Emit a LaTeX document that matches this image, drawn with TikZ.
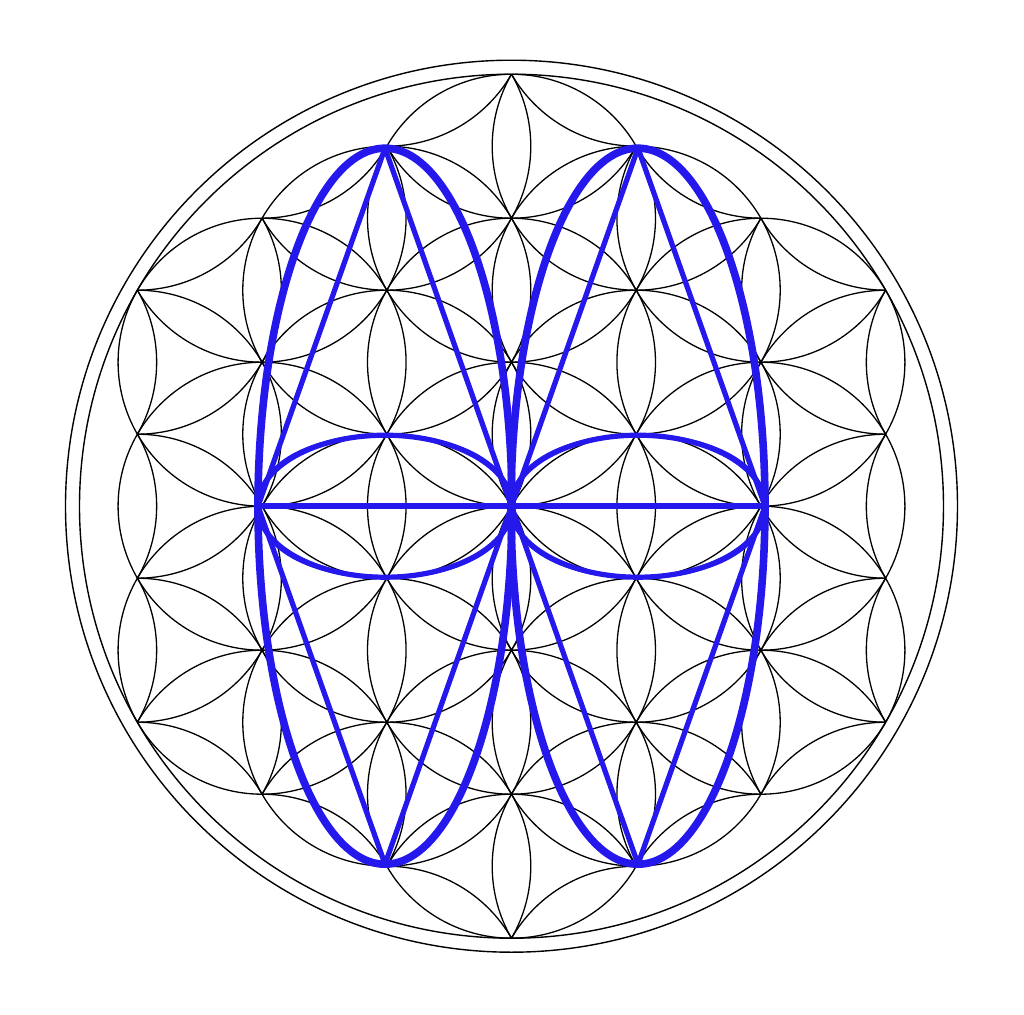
\documentclass[tikz,border=0pt]{standalone}
\definecolor{fblue}{RGB}{36,24,236}
\tikzset{
  flower/.style={draw=black, line width=0.65pt},
  ring/.style={draw=black, line width=0.7pt},
  bigoval/.style={draw=fblue, line width=3.8pt},
  rhomb/.style={draw=fblue, line width=2.6pt, line join=round},
  axisline/.style={draw=fblue, line width=3.2pt},
  smalloval/.style={draw=fblue, line width=2.6pt},
  thincurve/.style={draw=fblue, line width=1.5pt},
}
\newcommand\flowerpetal[3]{%
  \pgfmathsetmacro\fpx{(#1)*124.7077}%
  \pgfmathsetmacro\fpy{(#1)*72+(#2)*144}%
  \draw[flower] (\fpx,\fpy) arc[start angle=#3+240, end angle=#3+300, radius=144]
    (\fpx,\fpy) arc[start angle=#3+120, end angle=#3+60, radius=144];}
\begin{document}
\begin{tikzpicture}[x=0.5pt,y=0.5pt]
\fill[white] (-511.5,-507.8) rectangle (512.5,506.2);
\useasboundingbox (-511.5,-507.8) rectangle (512.5,506.2);
\coordinate (O) at (0,0);
% flower of life petals
\foreach \i in {-3,...,3}{
  \foreach \j in {-3,...,3}{
    \pgfmathtruncatemacro\hexd{(abs(\i)+abs(\j)+abs((\i)+(\j)))/2}
    \ifnum\hexd<4
      \pgfmathtruncatemacro\hexa{(abs((\i)+1)+abs(\j)+abs((\i)+(\j)+1))/2}
      \ifnum\hexa<4 \flowerpetal{\i}{\j}{30}\fi
      \pgfmathtruncatemacro\hexb{(abs(\i)+abs((\j)+1)+abs((\i)+(\j)+1))/2}
      \ifnum\hexb<4 \flowerpetal{\i}{\j}{90}\fi
      \pgfmathtruncatemacro\hexc{(abs((\i)-1)+abs((\j)+1)+abs((\i)+(\j)))/2}
      \ifnum\hexc<4 \flowerpetal{\i}{\j}{150}\fi
    \fi
  }
}
% enclosing rings
\draw[ring] (O) circle[radius=432];
\draw[ring] (O) circle[radius=446];
% blue construction
\coordinate (LT) at (-126.5,358);
\coordinate (LB) at (-126.5,-358);
\coordinate (LC) at (-126.5,0);
\coordinate (L)  at (-253.5,0);
\coordinate (RT) at (126.5,358);
\coordinate (RB) at (126.5,-358);
\coordinate (RC) at (126.5,0);
\coordinate (R)  at (253.5,0);
\draw[bigoval] (LC) ellipse[x radius=127, y radius=358];
\draw[bigoval] (RC) ellipse[x radius=127, y radius=358];
\draw[rhomb] (LT) -- (L) -- (LB) -- (O) -- cycle;
\draw[rhomb] (RT) -- (O) -- (RB) -- (R) -- cycle;
\draw[smalloval] (LC) ellipse[x radius=127, y radius=71];
\draw[smalloval] (RC) ellipse[x radius=127, y radius=71];
\draw[thincurve] (L) .. controls +(0,95) and +(0,95) .. (O);
\draw[thincurve] (L) .. controls +(0,-95) and +(0,-95) .. (O);
\draw[thincurve] (O) .. controls +(0,95) and +(0,95) .. (R);
\draw[thincurve] (O) .. controls +(0,-95) and +(0,-95) .. (R);
\draw[axisline] (L) -- (R);
\end{tikzpicture}
\end{document}
